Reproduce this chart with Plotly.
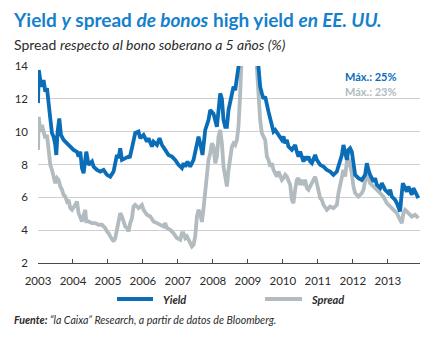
import plotly.graph_objects as go

# ---------------- data (decimal years, %) ----------------
yield_year = [2003.000, 2003.023, 2003.066, 2003.114, 2003.160, 2003.209, 2003.257, 2003.303, 2003.351, 2003.400,
              2003.446, 2003.494, 2003.523, 2003.560, 2003.609, 2003.657, 2003.731, 2003.829, 2003.923, 2004.017,
              2004.114, 2004.160, 2004.209, 2004.257, 2004.303, 2004.380, 2004.446, 2004.543, 2004.589, 2004.686,
              2004.780, 2004.874, 2004.971, 2005.066, 2005.160, 2005.209, 2005.257, 2005.303, 2005.351, 2005.400,
              2005.494, 2005.589, 2005.623, 2005.680, 2005.737, 2005.780, 2005.874, 2005.923, 2006.017, 2006.114,
              2006.160, 2006.257, 2006.303, 2006.400, 2006.474, 2006.543, 2006.637, 2006.731, 2006.829, 2006.923,
              2007.017, 2007.114, 2007.160, 2007.209, 2007.274, 2007.351, 2007.446, 2007.543, 2007.589, 2007.637,
              2007.703, 2007.780, 2007.874, 2007.923, 2007.971, 2008.017, 2008.114, 2008.160, 2008.209, 2008.257,
              2008.303, 2008.351, 2008.400, 2008.446, 2008.494, 2008.543, 2008.589, 2008.637, 2008.686, 2008.731,
              2008.780, 2008.837, 2008.894, 2008.951, 2009.009, 2009.066, 2009.123, 2009.180, 2009.237, 2009.303,
              2009.351, 2009.400, 2009.446, 2009.494, 2009.543, 2009.589, 2009.637, 2009.686, 2009.731, 2009.780,
              2009.874, 2009.971, 2010.017, 2010.066, 2010.114, 2010.160, 2010.257, 2010.351, 2010.400, 2010.446,
              2010.494, 2010.543, 2010.589, 2010.637, 2010.686, 2010.731, 2010.780, 2010.829, 2010.874, 2010.923,
              2010.971, 2011.066, 2011.160, 2011.257, 2011.351, 2011.446, 2011.543, 2011.637, 2011.686, 2011.731,
              2011.780, 2011.829, 2011.874, 2011.923, 2011.971, 2012.017, 2012.066, 2012.160, 2012.257, 2012.351,
              2012.400, 2012.446, 2012.494, 2012.589, 2012.637, 2012.686, 2012.780, 2012.829, 2012.923, 2013.017,
              2013.066, 2013.114, 2013.209, 2013.257, 2013.303, 2013.351, 2013.380, 2013.429, 2013.494, 2013.543,
              2013.589, 2013.637, 2013.686, 2013.731, 2013.780, 2013.829, 2013.874]
yield_val = [11.74, 13.75, 13.14, 12.74, 13.14, 12.43, 12.64, 11.42, 10.81, 9.90,
             9.70, 9.19, 8.58, 10.00, 10.81, 9.80, 9.50, 9.29, 9.09, 8.89,
             8.78, 8.48, 8.78, 7.78, 7.47, 8.78, 7.98, 8.18, 7.87, 7.67,
             7.57, 7.67, 7.37, 7.26, 7.57, 8.18, 8.58, 8.38, 8.99, 8.28,
             8.38, 8.48, 8.40, 9.00, 9.74, 9.92, 10.00, 9.60, 9.80, 9.39,
             9.60, 9.09, 9.39, 9.19, 9.60, 9.19, 8.89, 8.58, 8.48, 8.28,
             7.98, 7.78, 8.08, 7.87, 8.18, 7.87, 8.28, 9.19, 9.70, 9.29,
             8.58, 10.10, 10.71, 11.32, 11.20, 11.10, 10.30, 11.52, 12.33, 12.00,
             10.71, 10.30, 10.30, 11.32, 11.90, 12.33, 12.74, 12.53, 13.14, 13.95,
             15.50, 18.50, 21.50, 25.00, 23.00, 21.00, 19.50, 18.00, 16.00, 13.95,
             12.74, 12.33, 12.00, 12.13, 11.52, 11.22, 10.81, 10.30, 10.00, 10.10,
             9.80, 9.50, 9.70, 9.29, 9.50, 9.09, 8.89, 9.19, 8.78, 8.48,
             8.78, 8.48, 8.18, 8.48, 8.28, 8.48, 8.18, 8.08, 8.28, 8.58,
             8.28, 7.98, 7.87, 7.67, 7.57, 7.37, 7.57, 8.28, 8.58, 9.19,
             8.69, 8.28, 8.89, 8.99, 8.78, 7.87, 7.37, 7.17, 7.06, 7.37,
             8.08, 7.67, 7.37, 6.96, 7.17, 6.76, 6.56, 6.86, 6.46, 6.26,
             6.46, 6.05, 5.85, 5.65, 5.44, 5.14, 5.85, 6.86, 6.56, 6.35,
             6.66, 6.35, 6.15, 6.56, 6.35, 6.15, 5.95]

spread_year = [2003.000, 2003.023, 2003.066, 2003.114, 2003.160, 2003.209, 2003.257, 2003.303, 2003.351, 2003.400,
               2003.446, 2003.494, 2003.543, 2003.589, 2003.637, 2003.686, 2003.731, 2003.780, 2003.829, 2003.874,
               2003.923, 2003.971, 2004.066, 2004.114, 2004.160, 2004.209, 2004.257, 2004.351, 2004.380, 2004.446,
               2004.543, 2004.637, 2004.731, 2004.829, 2004.923, 2004.971, 2005.017, 2005.066, 2005.114, 2005.160,
               2005.209, 2005.257, 2005.303, 2005.351, 2005.400, 2005.446, 2005.494, 2005.543, 2005.589, 2005.637,
               2005.686, 2005.731, 2005.780, 2005.829, 2005.874, 2005.923, 2005.971, 2006.017, 2006.114, 2006.209,
               2006.303, 2006.400, 2006.494, 2006.589, 2006.637, 2006.686, 2006.780, 2006.874, 2006.971, 2007.066,
               2007.114, 2007.160, 2007.209, 2007.257, 2007.303, 2007.351, 2007.400, 2007.446, 2007.494, 2007.543,
               2007.589, 2007.637, 2007.686, 2007.731, 2007.780, 2007.829, 2007.874, 2007.923, 2007.971, 2008.017,
               2008.066, 2008.114, 2008.160, 2008.209, 2008.257, 2008.303, 2008.351, 2008.400, 2008.446, 2008.494,
               2008.543, 2008.589, 2008.637, 2008.686, 2008.731, 2008.780, 2008.829, 2008.874, 2008.923, 2008.971,
               2009.017, 2009.066, 2009.114, 2009.160, 2009.209, 2009.257, 2009.303, 2009.351, 2009.400, 2009.446,
               2009.494, 2009.543, 2009.589, 2009.637, 2009.686, 2009.731, 2009.780, 2009.829, 2009.874, 2009.923,
               2009.971, 2010.017, 2010.066, 2010.114, 2010.160, 2010.209, 2010.257, 2010.303, 2010.351, 2010.400,
               2010.446, 2010.494, 2010.543, 2010.589, 2010.637, 2010.686, 2010.731, 2010.780, 2010.829, 2010.874,
               2010.923, 2010.971, 2011.017, 2011.066, 2011.114, 2011.160, 2011.257, 2011.351, 2011.446, 2011.543,
               2011.589, 2011.637, 2011.686, 2011.731, 2011.780, 2011.829, 2011.874, 2011.923, 2011.971, 2012.017,
               2012.066, 2012.160, 2012.257, 2012.303, 2012.400, 2012.446, 2012.494, 2012.589, 2012.686, 2012.780,
               2012.874, 2012.971, 2013.066, 2013.160, 2013.257, 2013.351, 2013.400, 2013.446, 2013.494, 2013.589,
               2013.686, 2013.780, 2013.874]
spread_val = [8.89, 10.90, 10.00, 10.41, 10.00, 9.60, 9.80, 8.58, 7.98, 7.67,
              7.26, 6.86, 7.17, 7.06, 6.66, 6.46, 6.15, 6.05, 5.75, 5.85,
              5.34, 5.24, 5.54, 5.74, 5.04, 4.83, 4.53, 5.24, 4.53, 4.53,
              4.43, 4.43, 4.33, 4.33, 4.13, 3.92, 3.82, 3.62, 3.42, 3.31,
              3.52, 4.02, 4.43, 5.04, 4.83, 4.43, 4.23, 4.13, 3.92, 4.43,
              4.74, 5.44, 5.54, 5.44, 5.34, 5.44, 5.54, 5.24, 4.94, 4.83,
              4.53, 4.43, 4.33, 4.23, 4.43, 4.13, 4.02, 3.82, 3.52, 3.42,
              3.82, 3.82, 3.52, 3.62, 3.42, 3.22, 3.01, 3.11, 3.62, 4.83,
              5.24, 5.00, 4.50, 5.30, 6.50, 7.67, 8.28, 8.69, 9.29, 9.09,
              8.08, 8.48, 9.70, 10.10, 9.29, 7.87, 7.06, 6.66, 7.67, 8.50,
              9.09, 9.29, 9.19, 9.50, 10.30, 12.33, 13.95, 17.00, 20.50, 23.00,
              21.50, 20.00, 19.00, 17.50, 15.50, 13.95, 11.73, 10.71, 9.90, 9.70,
              9.50, 8.48, 8.28, 7.87, 8.08, 7.67, 7.47, 7.26, 7.57, 7.26,
              7.06, 7.17, 7.37, 7.26, 7.06, 6.76, 5.85, 5.65, 6.46, 7.06,
              7.17, 6.76, 6.96, 6.86, 7.06, 6.56, 6.46, 6.66, 6.86, 7.06,
              7.26, 6.86, 6.35, 5.95, 5.85, 5.55, 5.24, 5.44, 5.34, 5.54,
              6.26, 6.66, 7.26, 7.67, 7.26, 8.18, 8.38, 7.87, 7.47, 6.66,
              6.26, 6.05, 6.26, 6.46, 7.47, 7.17, 6.86, 6.66, 6.46, 6.26,
              6.05, 5.65, 5.44, 5.24, 5.04, 4.63, 4.43, 5.04, 5.24, 5.04,
              4.83, 4.94, 4.74]

year_ticks = [2003, 2004, 2005, 2006, 2007, 2008, 2009, 2010, 2011, 2012, 2013]
year_labels = [str(y) for y in year_ticks]
y_ticks = [2, 4, 6, 8, 10, 12, 14]

series_names = ["Yield", "Spread"]
max_labels = ["Máx.: 25%", "Máx.: 23%"]

# ---------------- style ----------------
BLUE = "#0a6db8"
TITLE_BLUE = "#1581cc"
GREY = "#b2bbbf"
TXT = "#2b2b2b"
FONT = "Lato, 'Open Sans', sans-serif"

W, H = 429, 338
ML, MR, MT, MB = 38, 9, 66, 75
PW, PH = W - ML - MR, H - MT - MB


def px(x):  # pixel -> paper x
    return (x - ML) / PW


def py(y):  # pixel -> paper y
    return (H - MB - y) / PH


fig = go.Figure()
fig.add_trace(go.Scatter(x=spread_year, y=spread_val, mode="lines", name=series_names[1],
                         line=dict(color=GREY, width=3.8), showlegend=False))
fig.add_trace(go.Scatter(x=yield_year, y=yield_val, mode="lines", name=series_names[0],
                         line=dict(color=BLUE, width=3.8), showlegend=False))

annotations = [
    dict(x=px(11), y=py(20), xref="paper", yref="paper", xanchor="left", yanchor="middle",
         text="<b>Yield <i>y</i> spread <i>de bonos</i> high yield <i>en EE. UU.</i></b>",
         font=dict(family=FONT, size=19, color=TITLE_BLUE), showarrow=False),
    dict(x=px(12), y=py(44), xref="paper", yref="paper", xanchor="left", yanchor="middle",
         text="Spread <i>respecto al bono soberano a 5 años (%)</i>",
         font=dict(family=FONT, size=14, color=TXT), showarrow=False),
    dict(x=px(370), y=py(76), xref="paper", yref="paper", xanchor="center", yanchor="middle",
         text="<b>" + max_labels[0] + "</b>", font=dict(family=FONT, size=11, color=BLUE), showarrow=False),
    dict(x=px(370), y=py(91), xref="paper", yref="paper", xanchor="center", yanchor="middle",
         text="<b>" + max_labels[1] + "</b>", font=dict(family=FONT, size=11, color=GREY), showarrow=False),
    dict(x=px(161), y=py(299), xref="paper", yref="paper", xanchor="left", yanchor="middle",
         text="<b><i>" + series_names[0] + "</i></b>", font=dict(family=FONT, size=11, color=TXT), showarrow=False),
    dict(x=px(309), y=py(299), xref="paper", yref="paper", xanchor="left", yanchor="middle",
         text="<b><i>" + series_names[1] + "</i></b>", font=dict(family=FONT, size=11, color=TXT), showarrow=False),
    dict(x=px(12), y=py(320), xref="paper", yref="paper", xanchor="left", yanchor="middle",
         text="<i><b>Fuente:</b> “la Caixa” Research, a partir de datos de Bloomberg.</i>",
         font=dict(family=FONT, size=10.6, color=TXT), showarrow=False),
]

shapes = [
    dict(type="line", xref="paper", yref="paper", x0=px(117), x1=px(153), y0=py(299), y1=py(299),
         line=dict(color=BLUE, width=3.8)),
    dict(type="line", xref="paper", yref="paper", x0=px(265), x1=px(302), y0=py(299), y1=py(299),
         line=dict(color=GREY, width=3.8)),
]

fig.update_layout(
    width=W, height=H,
    margin=dict(l=ML, r=MR, t=MT, b=MB, pad=0),
    paper_bgcolor="white", plot_bgcolor="white",
    font=dict(family=FONT, color=TXT),
    showlegend=False,
    annotations=annotations,
    shapes=shapes,
    xaxis=dict(range=[2003, 2013.92], tickvals=year_ticks, ticktext=year_labels,
               showgrid=False, zeroline=False, showline=True, linecolor="#4a4a4a", linewidth=1,
               ticks="inside", ticklen=4, tickcolor="#4a4a4a", tickwidth=1,
               tickfont=dict(family=FONT, size=11.5, color=TXT), ticklabelstandoff=7, fixedrange=True),
    yaxis=dict(range=[2, 14], tickvals=y_ticks, showgrid=True, gridcolor="#cfcfcf", gridwidth=1,
               zeroline=False, showline=False, ticks="",
               tickfont=dict(family=FONT, size=11.5, color=TXT), ticklabelstandoff=9, fixedrange=True),
)

fig.write_html("out.html")
